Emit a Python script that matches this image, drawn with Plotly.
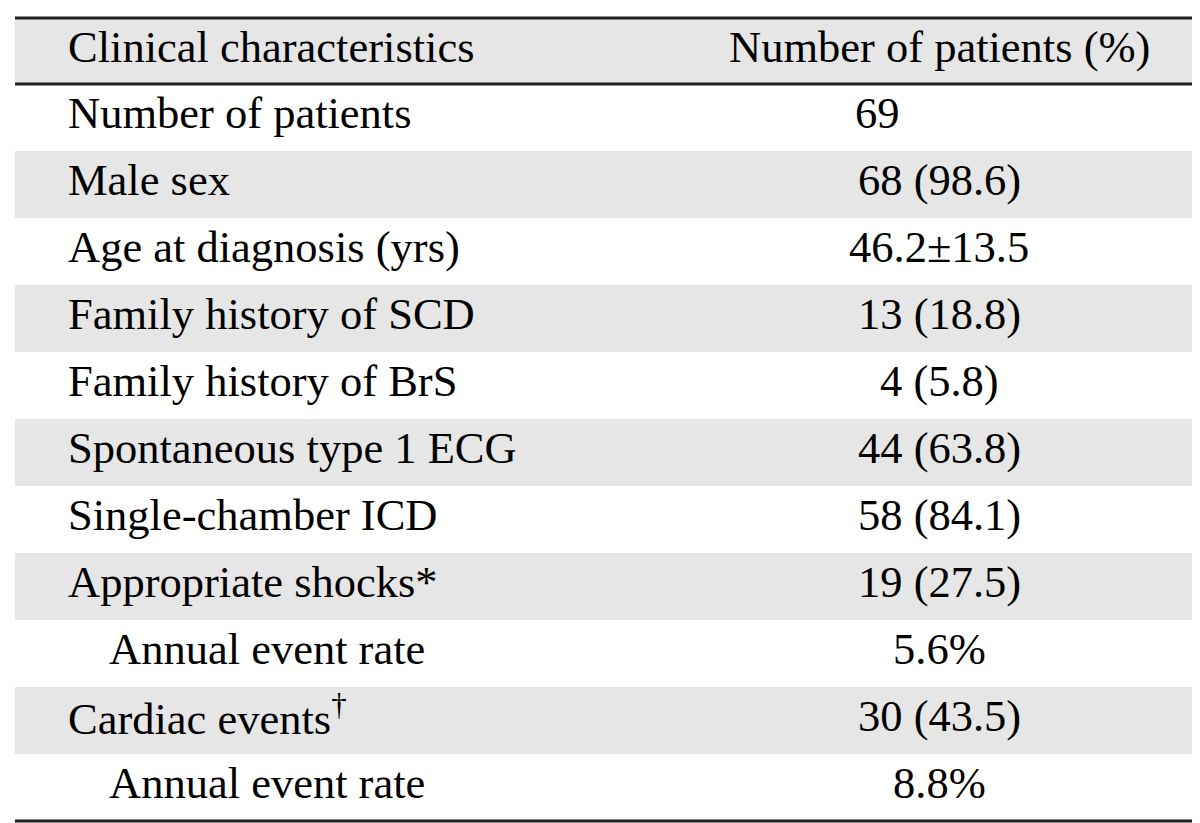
import plotly.graph_objects as go

header = ["Clinical characteristics", "Number of patients (%)"]
characteristics = [
    "Number of patients",
    "Male sex",
    "Age at diagnosis (yrs)",
    "Family history of SCD",
    "Family history of BrS",
    "Spontaneous type 1 ECG",
    "Single-chamber ICD",
    "Appropriate shocks*",
    "Annual event rate",
    "Cardiac events<sup>†</sup>",
    "Annual event rate",
]
values = [
    "69",
    "68 (98.6)",
    "46.2±13.5",
    "13 (18.8)",
    "4 (5.8)",
    "44 (63.8)",
    "58 (84.1)",
    "19 (27.5)",
    "5.6%",
    "30 (43.5)",
    "8.8%",
]
indented = [False, False, False, False, False, False, False, False, True, False, True]
shaded = [False, True, False, True, False, True, False, True, False, True, False]

W, H = 1200, 823
left, right = 7, 1192
top, header_bottom = 10, 76
row_h = 67
text_shift = -5
x_text, x_indent = 58, 99
x_val_center = 931
x_val_left = 845

FONT = dict(family="Liberation Serif, Times New Roman, serif", size=44.5, color="#000000")
GRAY = "#e6e6e6"
LINE = "#231f20"

shapes = []
annotations = []

shapes.append(dict(type="rect", xref="x", yref="y", x0=left, x1=right, y0=top, y1=header_bottom,
                   fillcolor=GRAY, line=dict(width=0), layer="below"))

for i, (c, v) in enumerate(zip(characteristics, values)):
    y0 = header_bottom + row_h * i
    y1 = y0 + row_h
    yc = (y0 + y1) / 2 + text_shift
    if shaded[i]:
        shapes.append(dict(type="rect", xref="x", yref="y", x0=left, x1=right, y0=y0, y1=y1,
                           fillcolor=GRAY, line=dict(width=0), layer="below"))
    annotations.append(dict(x=x_indent if indented[i] else x_text, y=yc, xref="x", yref="y",
                            text=c, showarrow=False, xanchor="left", yanchor="middle", font=FONT))
    if i == 0:
        annotations.append(dict(x=x_val_left, y=yc, xref="x", yref="y", text=v, showarrow=False,
                                xanchor="left", yanchor="middle", font=FONT))
    else:
        annotations.append(dict(x=x_val_center, y=yc, xref="x", yref="y", text=v, showarrow=False,
                                xanchor="center", yanchor="middle", font=FONT))

hc = (top + header_bottom) / 2 + text_shift + 1
annotations.append(dict(x=x_text, y=hc, xref="x", yref="y", text=header[0], showarrow=False,
                        xanchor="left", yanchor="middle", font=FONT))
annotations.append(dict(x=x_val_center, y=hc, xref="x", yref="y", text=header[1], showarrow=False,
                        xanchor="center", yanchor="middle", font=FONT))

bottom = header_bottom + row_h * len(characteristics)
for yl in (top, header_bottom, bottom):
    shapes.append(dict(type="line", xref="x", yref="y", x0=left, x1=right, y0=yl, y1=yl,
                       line=dict(color=LINE, width=3)))

fig = go.Figure()
fig.add_trace(go.Scatter(x=[0, W], y=[0, H], mode="markers", marker=dict(opacity=0),
                         hoverinfo="skip", showlegend=False))
fig.update_layout(
    width=W, height=H,
    margin=dict(l=0, r=0, t=0, b=0),
    paper_bgcolor="white", plot_bgcolor="white",
    xaxis=dict(range=[0, W], visible=False, fixedrange=True),
    yaxis=dict(range=[H, 0], visible=False, fixedrange=True),
    shapes=shapes, annotations=annotations,
    showlegend=False,
)
fig.write_html("out.html")
